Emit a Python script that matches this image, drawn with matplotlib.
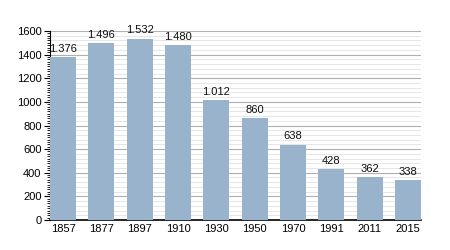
import numpy as np
import matplotlib.pyplot as plt
from matplotlib.ticker import MultipleLocator

plt.rcParams['font.family'] = ['Liberation Sans', 'DejaVu Sans']

years = ["1857", "1877", "1897", "1910", "1930", "1950", "1970", "1991", "2011", "2015"]
population = [1376, 1496, 1532, 1480, 1012, 860, 638, 428, 362, 338]
labels = ["1.376", "1.496", "1.532", "1.480", "1.012", "860", "638", "428", "362", "338"]

fig = plt.figure(figsize=(4.5, 2.5), dpi=100)
ax = fig.add_axes([0.111, 0.12, 0.825, 0.756])

x = np.arange(len(years))
ax.bar(x, population, width=0.68, color="#99b3cd", zorder=3)
for xi, v, lab in zip(x, population, labels):
    ax.text(xi, v + 30, lab, ha="center", va="bottom", fontsize=8, color="#111111", zorder=4)

ax.set_xlim(-0.34, 9.34)
ax.set_ylim(0, 1600)
ax.set_xticks(x)
ax.set_xticklabels(years)
ax.yaxis.set_major_locator(MultipleLocator(200))
ax.yaxis.set_minor_locator(MultipleLocator(20))

# light minor grid every 40, darker major grid every 200
for g in np.arange(40, 1600, 40):
    if g % 200:
        ax.axhline(g, color="#e6e6e6", linewidth=0.7, zorder=0)
ax.grid(axis="y", which="major", color="#b0b0b0", linewidth=0.8, zorder=1)

ax.tick_params(axis="x", length=0, labelsize=8, pad=3)
ax.tick_params(axis="y", which="major", length=4, labelsize=8, pad=2)
ax.tick_params(axis="y", which="minor", length=2)
for s in ["top", "right"]:
    ax.spines[s].set_visible(False)
ax.spines["bottom"].set_linewidth(1.2)

fig.savefig("out.png", dpi=100)
